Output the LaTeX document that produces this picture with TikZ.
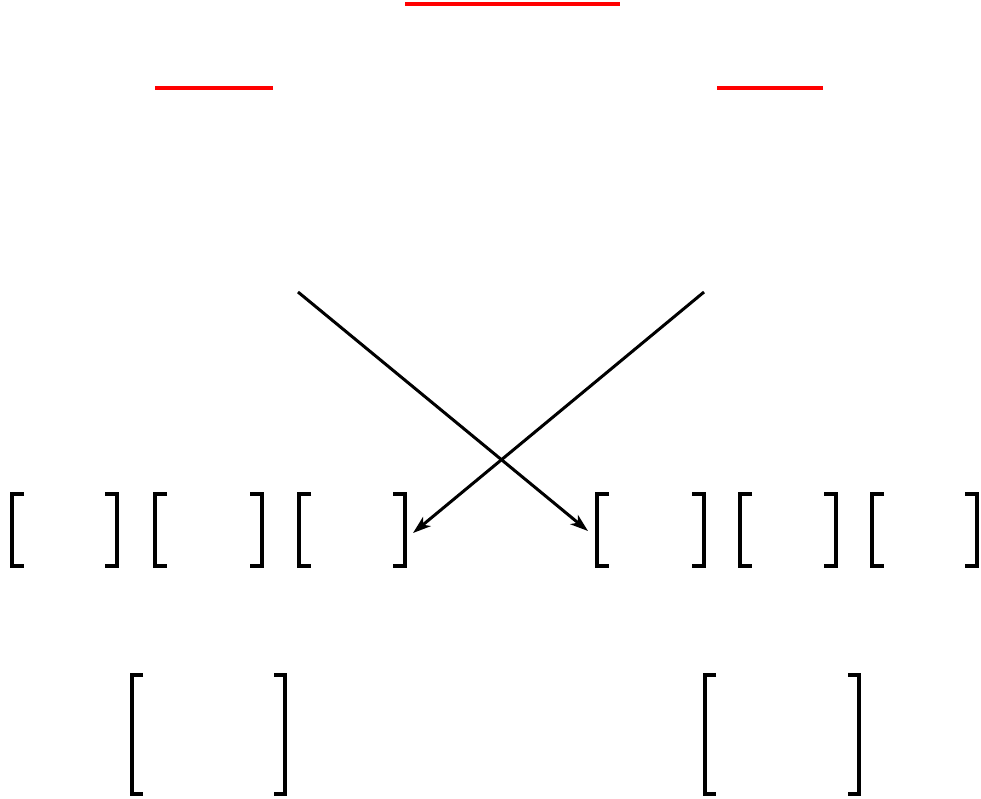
\documentclass[tikz,border=0pt]{standalone}
\usetikzlibrary{arrows.meta}
\begin{document}
\begin{tikzpicture}[x=1pt,y=-1pt,
  redbar/.style={red, line width=3.6pt},
  brk/.style={line width=3.8pt, line join=miter},
  conn/.style={line width=3pt, -{Stealth[length=18pt,width=12pt,inset=5pt]}}]
\useasboundingbox (0,0) rectangle (981,798);
% red bars
\draw[redbar] (405,4) -- (620,4);
\draw[redbar] (155,88) -- (273,88);
\draw[redbar] (717,88) -- (823,88);
% first row of brackets
\foreach \x in {12,155,299,597,740,872}
  \draw[brk] (\x+12,494) -- (\x,494) -- (\x,566) -- (\x+12,566);
\foreach \x in {117,262,405,704,836,977}
  \draw[brk] (\x-12,494) -- (\x,494) -- (\x,566) -- (\x-12,566);
% second row of brackets
\foreach \x in {132,705}
  \draw[brk] (\x+11,675) -- (\x,675) -- (\x,794) -- (\x+11,794);
\foreach \x in {285,859}
  \draw[brk] (\x-11,675) -- (\x,675) -- (\x,794) -- (\x-11,794);
% crossing arrows
\coordinate (s1) at (298,292);
\coordinate (t1) at (588,531);
\coordinate (s2) at (704,292);
\coordinate (t2) at (413,533);
\draw[conn] (s1) -- (t1);
\draw[conn] (s2) -- (t2);
\end{tikzpicture}
\end{document}
